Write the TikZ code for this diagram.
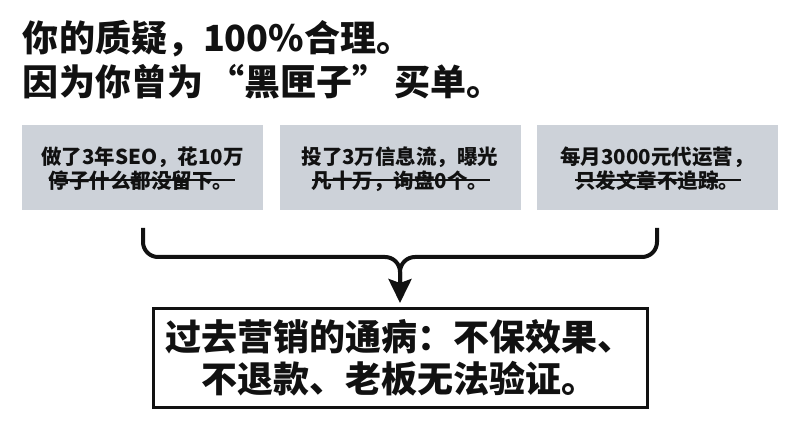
\documentclass[tikz,border=0pt]{standalone}
\usepackage{fontspec}
\newfontfamily\cjk{Noto Sans CJK SC}
\newfontfamily\cjkblack{Noto Sans CJK SC Black}
\usetikzlibrary{arrows.meta,calc}
\definecolor{boxgrey}{RGB}{205,210,217}
\definecolor{ink}{RGB}{17,17,17}
\begin{document}
\begin{tikzpicture}[x=1pt,y=-1pt,
  every node/.style={inner sep=0pt, outer sep=0pt, text=ink},
  titletext/.style={anchor=base west, font=\cjkblack\fontsize{36}{40}\selectfont},
  greybox/.style={fill=boxgrey, minimum width=241pt, minimum height=85pt},
  boxtext/.style={anchor=base, font=\cjk\bfseries\fontsize{20.5}{24}\selectfont},
  strikeline/.style={draw=ink, line width=1.8pt},
  braceline/.style={draw=ink, line width=4pt, rounded corners=15pt},
  resbox/.style={draw=ink, line width=3pt, fill=white, minimum width=494pt, minimum height=99pt},
  restext/.style={anchor=base, font=\cjkblack\fontsize{36}{40}\selectfont}]
\useasboundingbox (0,0) rectangle (800,446);
\fill[white] (0,0) rectangle (800,446);

% title
\node[titletext] (t1) at (23,52) {你的质疑，100\%合理。};
\node[titletext] (t2) at (23,95.5) {因为你曾为\,“黑匣子”\,买单。};

% grey boxes
\node[greybox] (b1) at (142.5,167.5) {};
\node[greybox] (b2) at (400,167.5) {};
\node[greybox] (b3) at (657,167.5) {};

\node[boxtext] (b1a) at (142.5,164.5) {做了3年SEO，花10万};
\node[boxtext] (b1b) at (141,188.5) {停子什么都没留下。};
\node[boxtext] (b2a) at (400,164.5) {投了3万信息流，曝光};
\node[boxtext] (b2b) at (400,188.5) {凡十万，询盘0个。};
\node[boxtext] (b3a) at (657,164.5) {每月3000元代运营，};
\node[boxtext] (b3b) at (657,188.5) {只发文章不追踪。};

\foreach \n in {b1b,b2b,b3b}{
  \draw[strikeline] ($(\n.base west)+(0,-8.5)$) -- ($(\n.base east)+(2,-8.5)$);
}

% result box
\node[resbox] (res) at (400,357.5) {};
\node[restext] (r1) at (399,350) {过去营销的通病：不保效果、};
\node[restext] (r2) at (399,392) {不退款、老板无法验证。};

% brace
\coordinate (bl) at (143,228);
\coordinate (br) at (657,228);
\coordinate (m) at (400,257);
\draw[braceline] (br) |- (m) -- (res.north) [shorten >=20pt];
\draw[braceline, shorten >=5pt, -{Stealth[length=24pt,width=23pt,inset=4pt]}] (bl) |- (m) -- (res.north);
\end{tikzpicture}
\end{document}
